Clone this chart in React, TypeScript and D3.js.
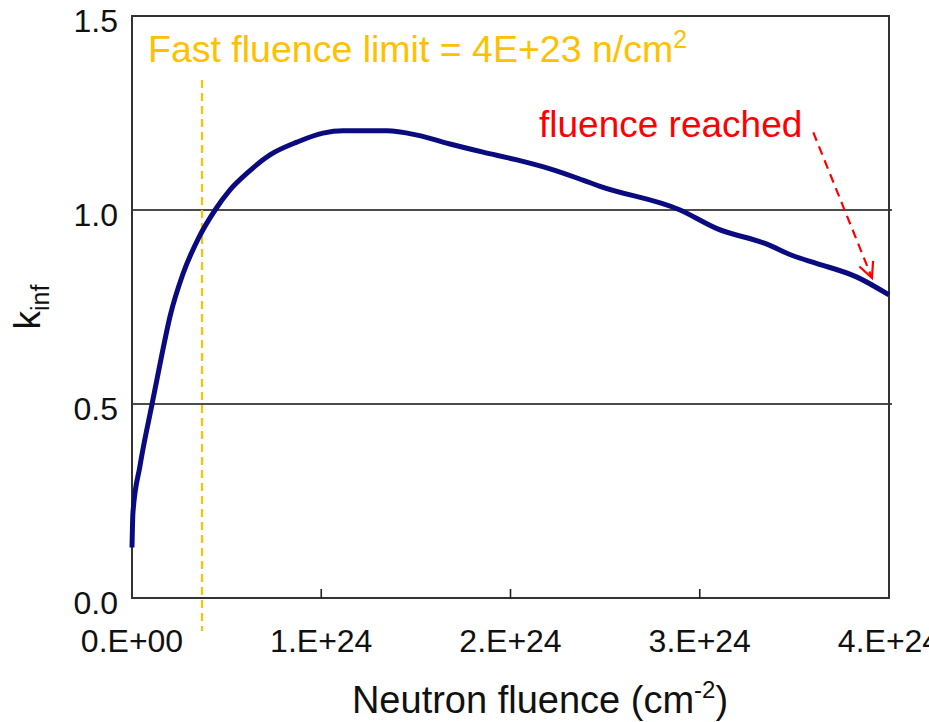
import React, { useEffect, useRef } from "react";
import * as d3 from "d3";

// neutron fluence in units of 1E+24 n/cm2
const fluence = [
  0, 0.005, 0.042, 0.106, 0.157, 0.201, 0.269, 0.349, 0.439, 0.518, 0.608,
  0.729, 0.872, 1.009, 1.115, 1.347, 1.506, 1.68, 1.855, 2.034, 2.209, 2.383,
  2.473, 2.896, 3.091, 3.355, 3.493, 3.62, 3.831, 4.0,
];
const kinf = [
  0.13, 0.22, 0.34, 0.5, 0.625, 0.726, 0.835, 0.925, 1.0, 1.052, 1.095,
  1.142, 1.175, 1.198, 1.204, 1.204, 1.193, 1.17, 1.149, 1.129, 1.106, 1.077,
  1.061, 1.0, 0.952, 0.912, 0.882, 0.862, 0.827, 0.781,
];

const xTicks = [0, 1, 2, 3, 4];
const xTickLabels = ["0.E+00", "1.E+24", "2.E+24", "3.E+24", "4.E+24"];
const yTicks = [0, 0.5, 1.0, 1.5];
const yTickLabels = ["0.0", "0.5", "1.0", "1.5"];
const gridValues = [0.5, 1.0];

// where the fast fluence limit marker is drawn (x, 1E+24 units)
const fastLimitAt = 0.37;
// arrow from label to end of curve: [x, k]
const arrowFrom = [3.6, 1.2];
const arrowTo = [3.91, 0.825];

const FONT = "'Liberation Sans', Arial, sans-serif";

const App = () => {
  const ref = useRef<SVGSVGElement>(null);

  useEffect(() => {
    const svg = d3.select(ref.current);
    svg.selectAll("*").remove();

    const x = d3.scaleLinear().domain([0, 4]).range([132, 889]);
    const y = d3.scaleLinear().domain([0, 1.5]).range([598, 16]);

    const g = svg.append("g").style("font-family", FONT);

    // grid lines
    g.selectAll("line.grid")
      .data(gridValues)
      .join("line")
      .attr("class", "grid")
      .attr("x1", x(0))
      .attr("x2", x(4) + 3)
      .attr("y1", (d) => y(d))
      .attr("y2", (d) => y(d))
      .attr("stroke", "#111")
      .attr("stroke-width", 1.6);

    // frame
    g.append("rect")
      .attr("x", x(0))
      .attr("y", y(1.5))
      .attr("width", x(4) - x(0))
      .attr("height", y(0) - y(1.5))
      .attr("fill", "none")
      .attr("stroke", "#333")
      .attr("stroke-width", 2);

    // x ticks (inside)
    g.selectAll("line.xtick")
      .data(xTicks.slice(1, 4))
      .join("line")
      .attr("class", "xtick")
      .attr("x1", (d) => x(d))
      .attr("x2", (d) => x(d))
      .attr("y1", y(0))
      .attr("y2", y(0) - 9)
      .attr("stroke", "#222")
      .attr("stroke-width", 1.6);

    g.selectAll("text.xlab")
      .data(xTicks)
      .join("text")
      .attr("class", "xlab")
      .attr("x", (d) => x(d))
      .attr("y", 652)
      .attr("text-anchor", "middle")
      .attr("font-size", 32)
      .attr("fill", "#111")
      .text((d, i) => xTickLabels[i]);

    g.selectAll("text.ylab")
      .data(yTicks)
      .join("text")
      .attr("class", "ylab")
      .attr("x", 118)
      .attr("y", (d) => y(d) + 16)
      .attr("text-anchor", "end")
      .attr("font-size", 32)
      .attr("fill", "#111")
      .text((d, i) => yTickLabels[i]);

    // axis titles
    const xt = g
      .append("text")
      .attr("x", 540)
      .attr("y", 713)
      .attr("text-anchor", "middle")
      .attr("font-size", 38)
      .attr("fill", "#111");
    xt.append("tspan").text("Neutron fluence (cm");
    xt.append("tspan").attr("font-size", 24).attr("dy", -15).text("-2");
    xt.append("tspan").attr("dy", 15).text(")");

    const yt = g
      .append("text")
      .attr("transform", "translate(40,307) rotate(-90)")
      .attr("text-anchor", "middle")
      .attr("font-size", 37)
      .attr("fill", "#111");
    yt.append("tspan").text("k");
    yt.append("tspan").attr("font-size", 25).attr("dy", 9).text("inf");

    // fast fluence limit marker
    g.append("line")
      .attr("x1", x(fastLimitAt))
      .attr("x2", x(fastLimitAt))
      .attr("y1", 80)
      .attr("y2", 631)
      .attr("stroke", "#FFC000")
      .attr("stroke-width", 2.2)
      .attr("stroke-dasharray", "8,5");

    const ft = g
      .append("text")
      .attr("x", 148)
      .attr("y", 62)
      .attr("font-size", 37.5)
      .attr("fill", "#FFC000");
    ft.append("tspan").text("Fast fluence limit = 4E+23 n/cm");
    ft.append("tspan").attr("font-size", 25).attr("dy", -14).text("2");

    // curve
    const pts = fluence.map((f, i) => [f, kinf[i]] as [number, number]);
    g.append("path")
      .datum(pts)
      .attr("fill", "none")
      .attr("stroke", "#0b0b80")
      .attr("stroke-width", 5)
      .attr("stroke-linejoin", "round")
      .attr(
        "d",
        d3
          .line<[number, number]>()
          .x((d) => x(d[0]))
          .y((d) => y(d[1]))
          .curve(d3.curveMonotoneX)
      );

    // fluence reached label + arrow
    g.append("text")
      .attr("x", 539)
      .attr("y", 137)
      .attr("font-size", 37)
      .attr("fill", "#FF0000")
      .text("fluence reached");

    const ax1 = x(arrowFrom[0]),
      ay1 = y(arrowFrom[1]),
      ax2 = x(arrowTo[0]),
      ay2 = y(arrowTo[1]);
    g.append("line")
      .attr("x1", ax1)
      .attr("y1", ay1)
      .attr("x2", ax2)
      .attr("y2", ay2)
      .attr("stroke", "#FF0000")
      .attr("stroke-width", 2.2)
      .attr("stroke-dasharray", "9,6");
    const ang = Math.atan2(ay2 - ay1, ax2 - ax1);
    const head = 17;
    const spread = 0.45;
    g.append("path")
      .attr(
        "d",
        `M${ax2 - head * Math.cos(ang - spread)},${ay2 - head * Math.sin(ang - spread)}` +
          `L${ax2},${ay2}` +
          `L${ax2 - head * Math.cos(ang + spread)},${ay2 - head * Math.sin(ang + spread)}`
      )
      .attr("fill", "none")
      .attr("stroke", "#FF0000")
      .attr("stroke-width", 2.2);
  }, []);

  return (
    <svg
      ref={ref}
      width={929}
      height={722}
      style={{ position: "absolute", left: 0, top: 0, display: "block", background: "#fff" }}
    />
  );
};

export default App;
